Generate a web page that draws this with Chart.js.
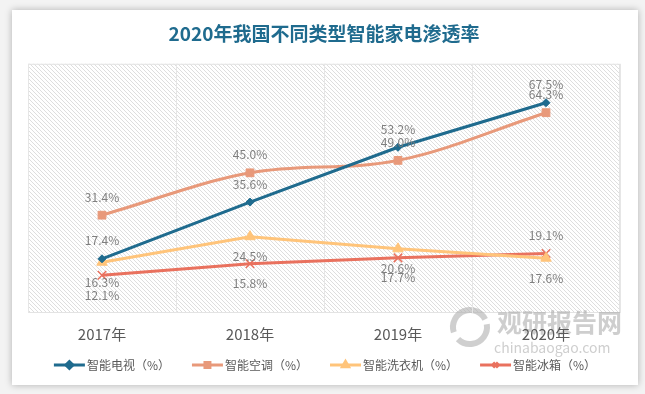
<!DOCTYPE html>
<html>
<head>
<meta charset="utf-8">
<script src="https://cdn.jsdelivr.net/npm/chart.js@4.4.0/dist/chart.umd.min.js"></script>
<style>
html, body { margin:0; padding:0; background:#f3f3f3; width:645px; height:394px; overflow:hidden; }
#card { position:absolute; left:12px; top:10px; width:626px; height:375px; background:#fff; box-shadow:0 0 7px rgba(0,0,0,0.28); }
#card canvas { display:block; }
</style>
</head>
<body>
<div id="card"><canvas id="rateChart" width="626" height="375"></canvas></div>
<script>
var years = ['2017年', '2018年', '2019年', '2020年'];
var seriesNames = ['智能电视（%）', '智能空调（%）', '智能洗衣机（%）', '智能冰箱（%）'];
var tvRate = [17.4, 35.6, 53.2, 67.5];
var acRate = [31.4, 45.0, 49.0, 64.3];
var washerRate = [16.3, 24.5, 20.6, 17.6];
var fridgeRate = [12.1, 15.8, 17.7, 19.1];

var FONT = '"Noto Sans CJK SC", "Noto Sans", sans-serif';
var colors = ['#1f6b8e', '#e8997a', '#ffc47a', '#e9715e'];
// u = label above the point, d = below
var labelSide = [['u', 'u', 'u', 'u'], ['u', 'u', 'u', 'u'], ['d', 'd', 'd', 'd'], ['d', 'd', 'd', 'u']];

var ctx = document.getElementById('rateChart').getContext('2d');

// diagonal hatch for the plot area
var pc = document.createElement('canvas');
pc.width = 4; pc.height = 4;
var pg = pc.getContext('2d');
pg.fillStyle = '#dedede';
for (var i = 0; i < 4; i++) pg.fillRect(i, i, 1, 1);
var hatch = ctx.createPattern(pc, 'repeat');

var backdrop = {
    id: 'backdrop',
    beforeDraw: function(chart) {
        var c = chart.ctx, a = chart.chartArea;
        c.save();
        c.fillStyle = '#fff';
        c.fillRect(a.left, a.top, a.right - a.left, a.bottom - a.top);
        c.fillStyle = hatch;
        c.fillRect(a.left, a.top, a.right - a.left, a.bottom - a.top);
        c.strokeStyle = '#e3e3e3';
        c.lineWidth = 1;
        c.strokeRect(a.left + 0.5, a.top + 0.5, a.right - a.left - 1, a.bottom - a.top - 1);

        // watermark
        c.strokeStyle = 'rgba(175,175,175,0.6)';
        c.lineWidth = 6;
        c.beginPath(); c.arc(458, 317, 17, Math.PI * 0.9, Math.PI * 1.85); c.stroke();
        c.beginPath(); c.arc(458, 317, 17, Math.PI * 1.95, Math.PI * 0.75); c.stroke();
        c.fillStyle = 'rgba(165,165,165,0.55)';
        c.textAlign = 'left';
        c.textBaseline = 'middle';
        c.font = 'bold 25px ' + FONT;
        c.fillText('观研报告网', 485, 312);
        c.font = '14px ' + FONT;
        c.fillText('chinabaogao.com', 482, 338);
        c.restore();
    }
};

var valueLabels = {
    id: 'valueLabels',
    afterDatasetsDraw: function(chart) {
        var c = chart.ctx;
        c.save();
        c.font = '12px ' + FONT;
        c.fillStyle = '#7f7f7f';
        c.textAlign = 'center';
        c.textBaseline = 'middle';
        chart.data.datasets.forEach(function(ds, di) {
            chart.getDatasetMeta(di).data.forEach(function(pt, pi) {
                var dy = labelSide[di][pi] === 'u' ? -18 : 20;
                c.fillText(ds.data[pi].toFixed(1) + '%', pt.x, pt.y + dy);
            });
        });
        c.restore();
    }
};

var lineLegend = {
    id: 'lineLegend',
    afterDraw: function(chart) {
        var c = chart.ctx;
        c.save();
        c.font = '12px ' + FONT;
        c.textBaseline = 'middle';
        var sets = chart.data.datasets;
        var widths = sets.map(function(ds) { return 33 + c.measureText(ds.label).width; });
        var total = widths.reduce(function(s, w) { return s + w; }, 0) + 22 * (sets.length - 1);
        var x = (chart.width - total) / 2, y = 355;
        sets.forEach(function(ds, i) {
            c.strokeStyle = ds.borderColor;
            c.lineWidth = 3;
            c.beginPath(); c.moveTo(x, y); c.lineTo(x + 31, y); c.stroke();
            c.fillStyle = ds.borderColor;
            Chart.helpers.drawPoint(c, { pointStyle: ds.pointStyle, radius: 3.5, rotation: 0, borderWidth: 1.5 }, x + 15.5, y);
            c.fillStyle = '#595959';
            c.fillText(ds.label, x + 33, y);
            x += widths[i] + 22;
        });
        c.restore();
    }
};

function series(idx, values, style, radius, tension) {
    return {
        label: seriesNames[idx],
        data: values,
        borderColor: colors[idx],
        backgroundColor: colors[idx],
        borderWidth: 3,
        pointStyle: style,
        pointRadius: radius,
        pointBorderWidth: style === 'crossRot' ? 1.5 : 1,
        tension: tension
    };
}

new Chart(ctx, {
    type: 'line',
    data: {
        labels: years,
        datasets: [
            series(0, tvRate, 'rectRot', 4, 0),
            series(1, acRate, 'rect', 5.5, 0.35),
            series(2, washerRate, 'triangle', 6, 0),
            series(3, fridgeRate, 'crossRot', 6, 0)
        ]
    },
    options: {
        responsive: false,
        animation: false,
        layout: { padding: { left: 16, right: 18, top: 0, bottom: 43 } },
        plugins: {
            legend: { display: false },
            tooltip: { enabled: false },
            title: {
                display: true,
                text: '2020年我国不同类型智能家电渗透率',
                color: '#1f6b8e',
                font: { size: 19, weight: 'bold', family: FONT },
                padding: { top: 12, bottom: 19 }
            }
        },
        scales: {
            x: {
                offset: true,
                grid: { offset: true, color: '#e6e6e6', drawTicks: false },
                border: { display: false },
                ticks: { padding: 12, color: '#595959', font: { size: 15, family: FONT } },
                afterFit: function(s) { s.height = 29; }
            },
            y: { display: false, min: 0, max: 80 }
        }
    },
    plugins: [backdrop, valueLabels, lineLegend]
});
</script>
</body>
</html>
